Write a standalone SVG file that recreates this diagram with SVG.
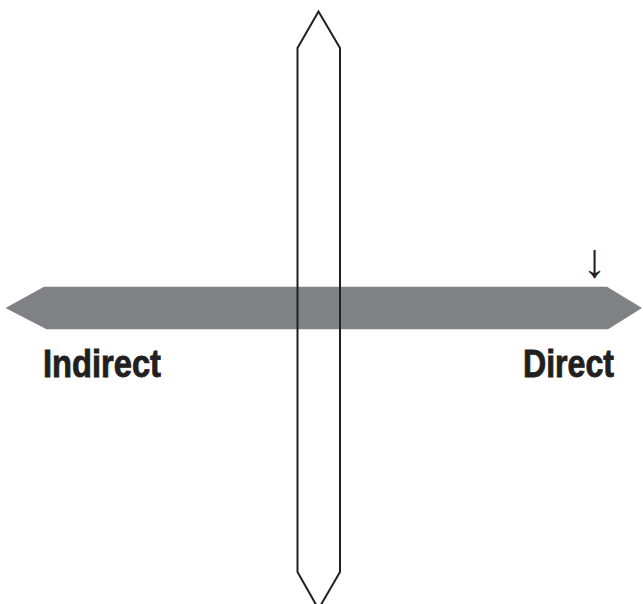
<svg xmlns="http://www.w3.org/2000/svg" width="643" height="604" viewBox="0 0 643 604">
<style>
.lbl{font-family:"Liberation Sans Narrow","Liberation Sans",Arial,sans-serif;font-stretch:condensed;font-weight:bold;font-size:39px;fill:#231f20;stroke:#231f20;stroke-width:0.9}
.outline{fill:none;stroke:#231f20;stroke-width:2}
.bar{fill:#808184}
</style>
<rect width="643" height="604" fill="#ffffff"/>
<g id="connectors"></g>
<g id="horizontal-axis">
<polygon class="bar" points="5.5,308 44,286.7 607,286.7 642,308 608,329.3 46.5,329.3"/>
</g>
<g id="vertical-axis">
<polygon class="outline" points="318.5,11.5 340,48 340,572 318.5,609 297.5,572 297.5,48"/>
</g>
<g id="label-indirect">
<text class="lbl" x="43" y="377" textLength="118" lengthAdjust="spacingAndGlyphs">Indirect</text>
</g>
<g id="label-direct">
<text class="lbl" x="523" y="377" textLength="91" lengthAdjust="spacingAndGlyphs">Direct</text>
</g>
<g id="marker-arrow">
<text x="594.5" y="277" text-anchor="middle" style="font-family:'Liberation Sans',sans-serif;font-size:48px;fill:#231f20">↓</text>
</g>
</svg>
